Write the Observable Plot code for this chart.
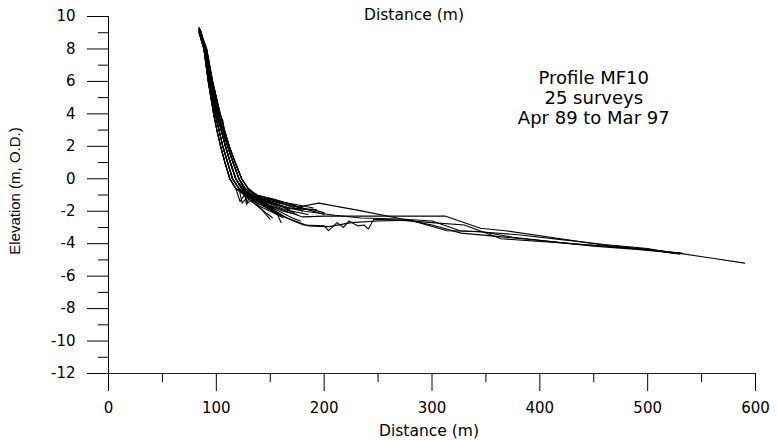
<!DOCTYPE html>
<html>
<head>
<meta charset="utf-8">
<script src="https://cdn.jsdelivr.net/npm/d3@7"></script>
<script src="https://cdn.jsdelivr.net/npm/@observablehq/plot@0.6"></script>
<style>
  html, body { margin: 0; padding: 0; background: #fff; }
  #chart svg { display: block; }
</style>
</head>
<body>
<div id="chart"></div>
<script>
// Axis ticks
const xTicks = [0, 100, 200, 300, 400, 500, 600];
const xMinor = [50, 150, 250, 350, 450, 550];
const yTicks = [-12, -10, -8, -6, -4, -2, 0, 2, 4, 6, 8, 10];
const yMinor = [-11, -9, -7, -5, -3, -1, 1, 3, 5, 7, 9];

// Text
const topTitle = "Distance (m)";
const xLabel = "Distance (m)";
const yLabel = "Elevation (m, O.D.)";
const annotation = "Profile MF10\n25 surveys\nApr 89 to Mar 97";

// Surveys: [distance (m), elevation (m O.D.)]
const s01 = [[84,9.3],[90,8],[94.5,6],[100.5,4],[104.5,3],[108.5,2],[113,1],[118,0],[124,-0.6],[131,-1.0],[142,-1.2],[158,-1.5],[175,-1.75],[195,-1.5],[232,-1.95],[270,-2.45],[300,-2.85],[327,-3.35],[360,-3.55],[400,-3.8],[450,-4.15],[490,-4.35],[530,-4.6],[560,-4.9],[590,-5.2]];
const s02 = [[85,9.2],[90.5,8],[95.5,6],[102,4],[106,3],[110.5,2],[115.5,1],[121,0],[127,-0.6],[134,-1.1],[148,-1.6],[165,-2.0],[180,-2.35],[200,-2.3],[240,-2.3],[270,-2.3],[312,-2.3],[345,-3.05],[368,-3.2],[410,-3.6],[460,-4.1],[500,-4.35],[530,-4.65]];
const s03 = [[84,9.1],[89,8],[93.5,6],[99,4],[102.5,3],[106,2],[110.5,1],[115,0],[121,-0.6],[128,-1.0],[138,-1.5],[155,-2.1],[170,-2.55],[181,-2.85],[200,-2.9],[204,-3.2],[212,-2.7],[218,-3.0],[223,-2.6],[231,-2.9],[237,-2.85],[241,-3.1],[246,-2.5],[270,-2.55],[300,-2.7],[330,-2.85],[364,-3.7],[420,-3.95],[470,-4.2],[500,-4.35],[532,-4.6]];
const s04 = [[85,9.2],[90,8],[94.5,6],[100.5,4],[104.5,3],[108.5,2],[113,1],[118,0],[124,-0.6],[132,-1.1],[145,-1.4],[160,-1.7],[182,-2.0],[210,-2.25],[234,-2.42],[271,-2.48],[300,-2.6],[326,-3.2],[350,-3.3],[380,-3.45],[420,-3.75],[460,-4.05],[500,-4.3],[520,-4.55],[532,-4.6]];
const s05 = [[84,9.0],[88.5,8],[92.5,6],[97.5,4],[100.5,3],[104,2],[108,1],[112.5,0],[118,-0.6],[126,-0.9],[136,-1.3],[150,-1.8],[165,-2.4],[185,-2.9],[205,-2.95],[225,-2.7],[250,-2.6],[280,-2.55],[314,-3.2],[345,-3.25],[375,-3.6],[430,-4.0],[470,-4.2],[505,-4.4],[530,-4.6]];
const s06 = [[84,9.2],[89,8],[93.5,6],[99,4],[102.5,3],[106,2],[110.5,1],[115,0],[121,-0.6],[128,-1.0],[140,-1.3],[155,-1.6],[170,-1.85],[193,-1.9]];
const s07 = [[85,9.1],[91,8],[96.5,6],[103.5,4],[106,3.6],[107.5,3],[112,2],[117.5,1],[123.5,0],[129.5,-0.6],[136,-1.0],[143,-1.4],[152,-1.9],[160,-2.3]];
const s08 = [[84,9.3],[88.5,8],[92.5,6],[97.5,4],[100.5,3],[104,2],[108,1],[112.5,0],[118,-0.6],[125,-0.9],[133,-1.1],[146,-1.3],[158,-1.6],[168,-1.9]];
const s09 = [[85,9.0],[90.5,8],[95.5,6],[102,4],[106,3],[110.5,2],[115.5,1],[121,0],[126,-0.7],[128,-1.6],[131,-1.0],[138,-1.3],[150,-1.9]];
const s10 = [[84,9.2],[90,8],[94.5,6],[100.5,4],[104.5,3],[108.5,2],[113,1],[118,0],[124,-0.6],[131,-0.9],[142,-1.1],[155,-1.3],[170,-1.6],[178,-1.8]];
const s11 = [[86,8.7],[91,7.8],[96.5,6],[103.5,4],[107.5,3],[112,2],[117.5,1],[123.5,0],[129.5,-0.6],[137,-1.2],[148,-1.6],[156,-2.1],[160,-2.7]];
const s12 = [[84,9.1],[89,8],[93.5,6],[99,4],[102.5,3],[106,2],[110.5,1],[115,0],[121,-0.6],[124,-1.5],[129,-1.1],[144,-1.5],[162,-2.0],[175,-2.2]];
const s13 = [[85,9.2],[90,8],[94.5,6],[100.5,4],[104.5,3],[108.5,2],[113,1],[118,0],[124,-0.6],[135,-1.2],[148,-1.5],[163,-1.9],[185,-2.2]];
const s14 = [[84,9.0],[88.5,8],[92.5,6],[97.5,4],[100.5,3],[104,2],[108,1],[112.5,0],[118,-0.6],[126,-1.0],[133,-1.4],[142,-1.9],[150,-2.5]];
const s15 = [[85,9.1],[90.5,8],[95.5,6],[102,4],[106,3],[110.5,2],[115.5,1],[121,0],[127,-0.6],[136,-1.0],[150,-1.2],[165,-1.5],[185,-1.9],[200,-2.2]];
const s16 = [[84,9.2],[90,8],[94.5,6],[100.5,4],[104.5,3],[108.5,2],[113,1],[118,0],[124,-0.7],[129,-1.5],[133,-1.3],[145,-1.6],[157,-2.2]];
const s17 = [[85,8.9],[89,7.8],[93.5,6],[99,4],[102.5,3],[106,2],[110.5,1],[115,0],[121,-0.6],[133,-1.1],[148,-1.4],[160,-1.7],[172,-2.1]];
const s18 = [[84,9.3],[91,8],[96.5,6],[103.5,4],[107.5,3],[112,2],[117.5,1],[123.5,0],[129.5,-0.6],[138,-1.0],[152,-1.3],[168,-1.7],[180,-2.0]];
const s19 = [[86,8.8],[90.5,7.8],[95.5,6],[102,4],[106,3],[110.5,2],[115.5,1],[121,0],[127,-0.7],[133,-1.2],[140,-1.7],[150,-2.0],[162,-2.4]];
const s20 = [[84,9.1],[89,8],[93.5,6],[99,4],[102.5,3],[106,2],[110.5,1],[115,0],[121,-0.6],[128,-1.0],[135,-1.4],[145,-1.7],[152,-2.0]];
const s21 = [[85,9.2],[90,8],[94.5,6],[100.5,4],[104.5,3],[108.5,2],[113,1],[118,0],[124,-0.6],[130,-1.1],[139,-1.3],[152,-1.5],[168,-1.8],[190,-1.9],[200,-2.1]];
const s22 = [[84,9.0],[88.5,8],[92.5,6],[97.5,4],[100.5,3],[104,2],[108,1],[112.5,0],[118,-0.6],[122,-1.4],[126,-1.0],[136,-1.2],[146,-1.6],[155,-1.9]];
const s23 = [[85,9.1],[90.5,8],[95.5,6],[102,4],[106,3],[110.5,2],[115.5,1],[121,0],[127,-0.7],[132,-1.1],[141,-1.4],[155,-1.9],[170,-2.4],[178,-2.6]];
const s24 = [[84,9.2],[90,8],[94.5,6],[100.5,4],[104.5,3],[108.5,2],[113,1],[118,0],[124,-0.6],[129,-1.2],[137,-1.6],[146,-2.1],[152,-2.4]];
const s25 = [[85,9.0],[91,8],[96.5,6],[103.5,4],[107.5,3],[112,2],[117.5,1],[123.5,0],[129.5,-0.6],[136,-1.0],[143,-1.2],[158,-1.4],[175,-1.6],[190,-1.8]];

const surveys = [s01,s02,s03,s04,s05,s06,s07,s08,s09,s10,s11,s12,s13,s14,s15,s16,s17,s18,s19,s20,s21,s22,s23,s24,s25];
const rows = surveys.flatMap((s, i) => s.map(([x, y]) => ({survey: i + 1, x, y})));

const fmt = d => String(d);
const tickFont = "DejaVu Sans";

const chart = Plot.plot({
  width: 778,
  height: 440,
  marginLeft: 108,
  marginRight: 23,
  marginTop: 16,
  marginBottom: 67,
  style: {background: "#fff", color: "#000", fontFamily: tickFont, fontSize: "15px"},
  x: {domain: [0, 600]},
  y: {domain: [-12, 10]},
  marks: [
    Plot.axisY(yTicks, {tickSize: 21, tickPadding: 12, tickFormat: fmt, label: null, fontSize: 15}),
    Plot.axisY(yMinor, {tickSize: 10, fill: "none", label: null}),
    Plot.axisX(xTicks, {tickSize: 18, tickPadding: 11, tickFormat: fmt, label: null, fontSize: 15}),
    Plot.axisX(xMinor, {tickSize: 9, fill: "none", label: null}),
    Plot.ruleX([0], {y1: -12, y2: 10, stroke: "#000"}),
    Plot.ruleY([-12], {x1: 0, x2: 600, stroke: "#222"}),
    Plot.line(rows, {x: "x", y: "y", z: "survey", stroke: "#000", strokeWidth: 1.1}),
    Plot.text([topTitle], {frameAnchor: "top", textAnchor: "middle", lineAnchor: "middle", dx: -18, dy: -1, fontSize: 15.5}),
    Plot.text([xLabel], {frameAnchor: "bottom", textAnchor: "middle", lineAnchor: "middle", dx: -3, dy: 58, fontSize: 15.5}),
    Plot.text([yLabel], {frameAnchor: "left", textAnchor: "middle", lineAnchor: "middle", rotate: -90, dx: -93, dy: -4, fontSize: 15, fontFamily: "Liberation Sans"}),
    Plot.text([annotation], {x: 450, y: 5.0, textAnchor: "middle", lineAnchor: "middle", lineHeight: 1.1, fontSize: 18})
  ]
});

document.getElementById("chart").appendChild(chart);
</script>
</body>
</html>
